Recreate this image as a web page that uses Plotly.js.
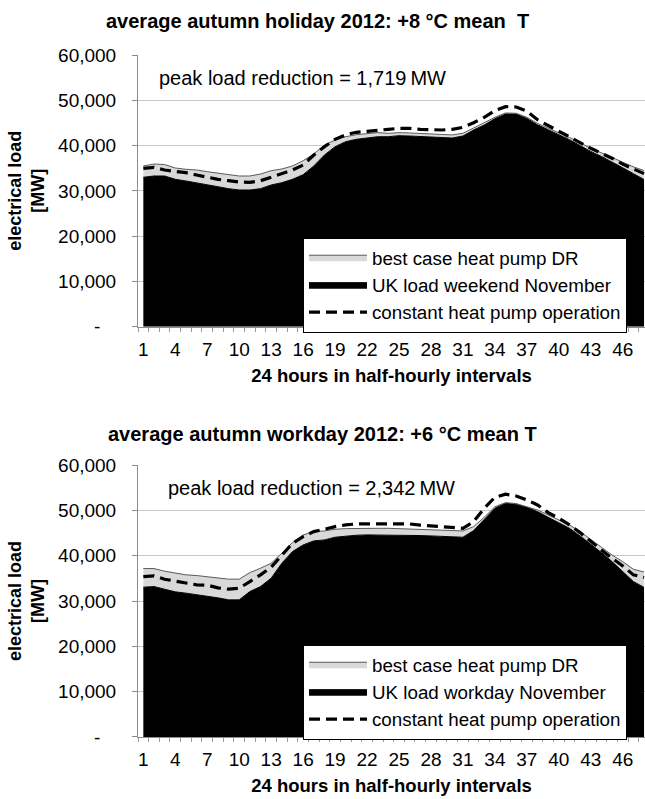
<!DOCTYPE html>
<html>
<head>
<meta charset="utf-8">
<script src="https://cdn.plot.ly/plotly-3.0.1.min.js"></script>
<style>
html,body{margin:0;padding:0;background:#fff;overflow:hidden;}
#chart{width:645px;height:799px;}
</style>
</head>
<body>
<div id="chart"></div>
<script>
// half-hour interval index 1..48
var intervals = [];
for (var i = 1; i <= 48; i++) intervals.push(i);

var xTickVals = [1,4,7,10,13,16,19,22,25,28,31,34,37,40,43,46];
var yTickVals = [0,10000,20000,30000,40000,50000,60000];
var yTickText = ['-\u00a0\u00a0\u00a0','10,000','20,000','30,000','40,000','50,000','60,000'];

// Top panel: average autumn holiday 2012 (+8 °C)
var holidayLoad = [33000,33280,33280,32550,32180,31800,31450,30920,30480,30190,30190,30480,
  31300,31800,32550,33570,35490,37920,39750,40860,41380,41740,41960,41960,
  42180,42110,41960,41810,41740,41670,42110,43440,44540,45940,46970,46970,
  46000,44600,43500,42400,41300,40000,38700,37600,36400,35100,33800,32500];
var holidayDR = [35490,35930,35800,35050,34760,34610,34230,33880,33500,33280,33280,33720,
  34450,34830,35490,36660,38140,40130,41230,41960,42400,42710,42860,42710,
  42850,42780,42640,42490,42420,42350,42710,43950,45050,46240,47200,47130,
  46250,44900,43800,42800,41800,40600,39400,38400,37400,36300,35300,34500];
var holidayConst = [34980,35200,34600,34390,34010,33500,33000,32550,32240,31960,31880,32240,
  33000,33720,34610,35710,37920,39750,41380,42400,42930,43150,43440,43590,
  43810,43810,43590,43440,43440,43590,44030,45050,46240,47700,48590,48520,
  47600,45700,44400,43200,41900,40600,39400,38300,37200,35900,34800,33800];

// Bottom panel: average autumn workday 2012 (+6 °C)
var workdayLoad = [33050,33190,32600,32020,31730,31430,31140,30700,30260,30260,32090,33190,
  35040,38340,40900,42370,43260,43480,44070,44360,44510,44580,44580,44580,
  44580,44510,44440,44360,44290,44220,44070,45530,47880,50460,51560,51350,
  50690,49720,48470,47300,46040,44360,42590,40680,38690,36500,34300,33000];
var workdayDR = [37160,37160,36580,36140,35770,35620,35400,35040,34820,34820,36270,37230,
  38340,40550,42880,44580,45310,45460,45830,45970,46040,46040,46040,46040,
  45970,45900,45820,45820,45680,45530,45460,46410,48470,50800,51700,51490,
  50800,50090,48990,47880,46780,45310,43480,41850,40160,38690,37000,36400];
var workdayConst = [35400,35550,34810,34380,33940,33570,33500,32900,32610,32830,34290,35770,
  37460,40180,42740,44200,45310,45830,46410,46780,47000,47000,47000,47000,
  47070,47000,46730,46580,46410,46190,46040,47510,50460,52890,53550,53180,
  52300,51190,49500,48250,46780,45090,43110,41270,39430,37740,35770,35200];

var titles = ['average autumn holiday 2012: +8 \u00b0C mean\u00a0 T', 'average autumn workday 2012: +6 \u00b0C mean T'];
var peakNotes = ['peak load reduction = 1,719\u2009MW', 'peak load reduction = 2,342\u2009MW'];
var seriesNames = {
  dr: 'best case heat pump DR',
  load: ['UK load weekend November', 'UK load workday November'],
  cst: 'constant heat pump operation'
};

var FONT = 'Arial, "Liberation Sans", sans-serif';

function panelTraces(load, dr, cst, xa, ya, lg, loadName) {
  return [
    {x: intervals, y: load, xaxis: xa, yaxis: ya, legend: lg, name: loadName, legendrank: 2,
     type: 'scatter', mode: 'lines', fill: 'tozeroy', fillcolor: '#000000',
     line: {color: '#000000', width: 1}, hoverinfo: 'skip'},
    {x: intervals, y: dr, xaxis: xa, yaxis: ya, legend: lg, name: seriesNames.dr, legendrank: 1,
     type: 'scatter', mode: 'lines', fill: 'tonexty', fillcolor: '#d9d9d9',
     line: {color: '#5a5a5a', width: 1}, hoverinfo: 'skip'},
    {x: intervals, y: cst, xaxis: xa, yaxis: ya, legend: lg, name: seriesNames.cst, legendrank: 3,
     type: 'scatter', mode: 'lines',
     line: {color: '#000000', width: 3.2, dash: '11px,6px'}, hoverinfo: 'skip'}
  ];
}

var data = panelTraces(holidayLoad, holidayDR, holidayConst, 'x', 'y', 'legend', seriesNames.load[0])
  .concat(panelTraces(workdayLoad, workdayDR, workdayConst, 'x2', 'y2', 'legend2', seriesNames.load[1]));

function xAxis(anchor) {
  return {
    anchor: anchor, domain: [0, 1], range: [0.5, 48.09],
    tickmode: 'array', tickvals: xTickVals, ticks: '',
    tickfont: {family: FONT, size: 19, color: '#000'},
    ticklabelstandoff: 5,
    showline: true, linecolor: '#8c8c8c', linewidth: 1,
    showgrid: false, zeroline: false,
    minor: {tickmode: 'linear', tick0: 0.5, dtick: 1, ticks: 'outside', ticklen: 4, tickcolor: '#9a9a9a', showgrid: false},
    title: {text: '24 hours in half-hourly intervals', font: {family: FONT, size: 18.5, weight: 700, color: '#000'}, standoff: 10}
  };
}
function yAxis(anchor, domain) {
  return {
    anchor: anchor, domain: domain, range: [0, 60000],
    tickmode: 'array', tickvals: yTickVals, ticktext: yTickText,
    ticks: 'outside', ticklen: 5, tickcolor: '#8c8c8c',
    ticklabelstandoff: 12,
    tickfont: {family: FONT, size: 19, color: '#000'},
    showline: true, linecolor: '#8c8c8c', linewidth: 1,
    showgrid: true, gridcolor: '#c8c8c8', gridwidth: 1, zeroline: false,
    title: {text: 'electrical load<br>[MW]', font: {family: FONT, size: 18, weight: 700, color: '#000'}, standoff: 8}
  };
}

function legendBox(ytop) {
  return {
    x: 0.3254, y: ytop, xanchor: 'left', yanchor: 'top',
    bgcolor: '#ffffff', bordercolor: '#000000', borderwidth: 1,
    font: {family: FONT, size: 18.8, color: '#000'},
    itemwidth: 58, tracegroupgap: 0, traceorder: 'normal'
  };
}

var layout = {
  width: 645, height: 799,
  margin: {l: 138, r: 0, t: 55, b: 62},
  paper_bgcolor: '#ffffff', plot_bgcolor: '#ffffff',
  showlegend: true,
  font: {family: FONT, color: '#000'},
  xaxis: xAxis('y'),
  yaxis: yAxis('x', [0.6016, 1]),
  xaxis2: xAxis('y2'),
  yaxis2: yAxis('x2', [0, 0.3988]),
  legend: legendBox(0.7324),
  legend2: legendBox(0.1356),
  annotations: [
    {text: '<b>' + titles[0] + '</b>', xref: 'paper', yref: 'paper', x: 0.355, y: 1.0503,
     xanchor: 'center', yanchor: 'middle', showarrow: false, font: {family: FONT, size: 20, color: '#000'}},
    {text: '<b>' + titles[1] + '</b>', xref: 'paper', yref: 'paper', x: 0.363, y: 0.4443,
     xanchor: 'center', yanchor: 'middle', showarrow: false, font: {family: FONT, size: 20, color: '#000'}},
    {text: peakNotes[0], xref: 'paper', yref: 'paper', x: 0.0369, y: 0.9658,
     xanchor: 'left', yanchor: 'middle', showarrow: false, font: {family: FONT, size: 20, color: '#000'}},
    {text: peakNotes[1], xref: 'paper', yref: 'paper', x: 0.0546, y: 0.3651,
     xanchor: 'left', yanchor: 'middle', showarrow: false, font: {family: FONT, size: 20, color: '#000'}}
  ]
};

Plotly.newPlot('chart', data, layout, {displayModeBar: false, staticPlot: true});
</script>
</body>
</html>
